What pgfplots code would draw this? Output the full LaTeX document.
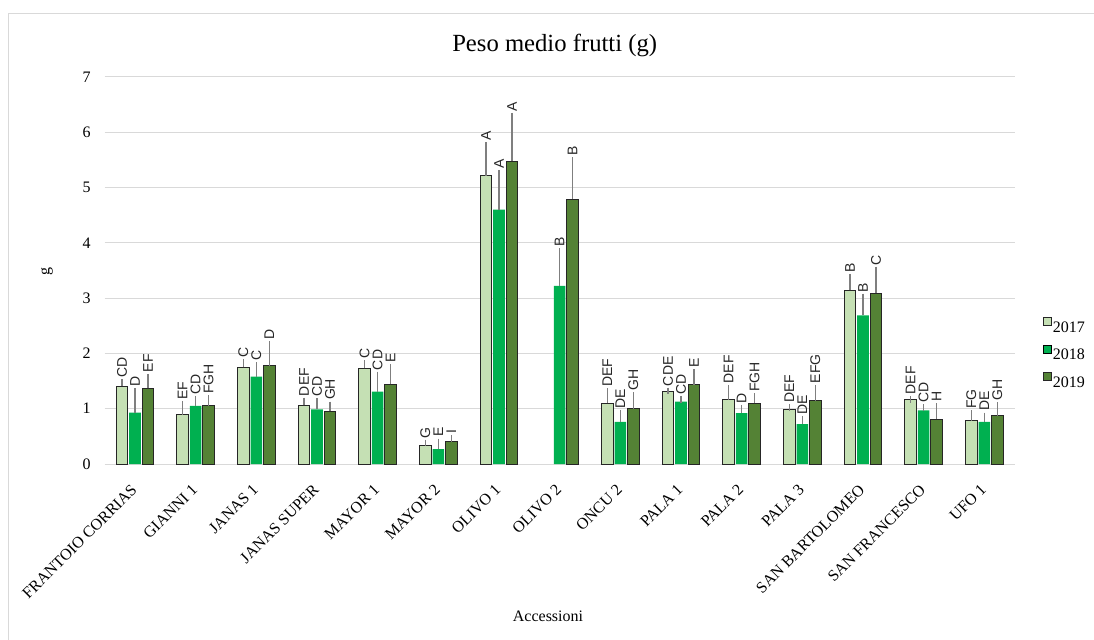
\documentclass[border=0pt]{standalone}
\usepackage{fontspec}
\setmainfont{Liberation Serif}
\newfontfamily\lettersf{Liberation Sans}
\usepackage{pgfplots}
\usepackage{pgfplotstable}
\pgfplotsset{compat=1.18}

\definecolor{c17}{HTML}{C5E0B4}
\definecolor{c18}{HTML}{00B050}
\definecolor{c19}{HTML}{548235}
\definecolor{edge}{HTML}{262626}
\definecolor{gridc}{HTML}{D9D9D9}
\definecolor{errc}{HTML}{7F7F7F}

% fruit weight (g): mean, error, letter group
\pgfplotstableread{
x  v     e     l
0  1.41  0.06  CD
1  0.89  0.19  EF
2  1.75  0.08  C
3  1.06  0.08  DEF
4  1.73  0.09  C
5  0.34  0.04  G
6  5.21  0.55  A
7  nan   0     -
8  1.10  0.21  DEF
9  1.31  0.01  CDE
10 1.16  0.21  DEF
11 0.99  0.03  DEF
12 3.14  0.24  B
13 1.16  0.01  DEF
14 0.78  0.13  FG
}\tA
\pgfplotstableread{
x  v     e     l
0  0.93  0.38  D
1  1.05  0.12  CD
2  1.58  0.20  C
3  0.99  0.14  CD
4  1.31  0.30  CD
5  0.27  0.13  E
6  4.60  0.66  A
7  3.22  0.62  B
8  0.76  0.16  DE
9  1.13  0.04  CD
10 0.92  0.09  D
11 0.72  0.09  DE
12 2.69  0.33  B
13 0.97  0.05  CD
14 0.76  0.11  DE
}\tB
\pgfplotstableread{
x  v     e     l
0  1.37  0.20  EF
1  1.05  0.13  FGH
2  1.78  0.38  D
3  0.95  0.12  GH
4  1.44  0.30  E
5  0.40  0.06  I
6  5.48  0.81  A
7  4.79  0.70  B
8  1.00  0.24  GH
9  1.43  0.22  E
10 1.10  0.12  FGH
11 1.14  0.23  EFG
12 3.09  0.42  C
13 0.81  0.23  H
14 0.87  0.19  GH
}\tC

\pgfplotsset{
  sqleg/.style={legend image code/.code={\draw[##1] (0pt,1pt) rectangle (6pt,7pt);}},
  letters/.style={forget plot, draw=none, fill=none,
    nodes near coords, point meta=explicit symbolic,
    nodes near coords style={rotate=90, anchor=west, inner sep=1.5pt, xshift=2pt,
      font=\lettersf\fontsize{10.5}{12}\selectfont, text=black!85}},
}

\begin{document}
\begin{tikzpicture}
\useasboundingbox (0,0) rectangle (820.5pt,479.25pt);
\draw[gridc, line width=0.75pt] (6pt,-20pt) rectangle (840pt,469pt);
\node[anchor=base, font=\fontsize{18.5}{22}\selectfont] at (416pt,440.5pt) {Peso medio frutti (g)};
\node[rotate=90, font=\fontsize{12}{14}\selectfont] at (35.25pt,275.5pt) {g};
\node[anchor=base, font=\fontsize{12}{14}\selectfont] at (411pt,13pt) {Accessioni};
\begin{axis}[
  at={(78.5pt,131.25pt)}, anchor=south west,
  scale only axis, width=682.5pt, height=290.25pt,
  ybar, bar width=8.65pt,
  xmin=-0.5, xmax=14.5, ymin=0, ymax=7,
  xtick={0,...,14},
  xticklabels={FRANTOIO CORRIAS, GIANNI 1, JANAS 1, JANAS SUPER, MAYOR 1, MAYOR 2, OLIVO 1, OLIVO 2, ONCU 2, PALA 1, PALA 2, PALA 3, SAN BARTOLOMEO, SAN FRANCESCO, UFO 1},
  ytick={0,...,7},
  ymajorgrids, grid style={gridc, line width=0.75pt},
  axis x line=bottom, axis y line=left, axis line style={draw=none},
  major tick length=0pt,
  tick label style={font=\fontsize{12}{14}\selectfont},
  /pgf/number format/assume math mode=true,
  xticklabel style={xshift=-2.25pt, yshift=-10pt, rotate=45, anchor=north east, inner sep=2pt, xshift=-2pt},
  yticklabel style={xshift=-7pt},
  clip=false,
  legend style={at={(1.031,0.2876)}, anchor=west, draw=none, fill=none,
    font=\fontsize{12}{14}\selectfont, inner sep=0pt, row sep=8.75pt,
    nodes={inner sep=0.6pt, text height=8.5pt, text depth=0pt}},
  legend cell align=left,
  error bars/error bar style={errc, line width=0.9pt, solid},
  error bars/error mark options={errc, mark size=2.5pt, line width=0.9pt},
]
\addplot[bar shift=-9.75pt, fill=c17, draw=edge, line width=0.75pt, sqleg,
  error bars/.cd, y dir=plus, y explicit] table[x=x, y=v, y error=e] {\tA};
\addplot[bar shift=0pt, fill=c18, draw=none, sqleg,
  error bars/.cd, y dir=plus, y explicit] table[x=x, y=v, y error=e] {\tB};
\addplot[bar shift=9.75pt, fill=c19, draw=edge, line width=0.75pt, sqleg,
  error bars/.cd, y dir=plus, y explicit] table[x=x, y=v, y error=e] {\tC};
\legend{2017,2018,2019}
% letter groups above the error bars
\addplot[letters, bar shift=-9.75pt] table[x=x, y expr=\thisrow{v}+\thisrow{e}, meta=l] {\tA};
\addplot[letters, bar shift=0pt] table[x=x, y expr=\thisrow{v}+\thisrow{e}, meta=l] {\tB};
\addplot[letters, bar shift=9.75pt] table[x=x, y expr=\thisrow{v}+\thisrow{e}, meta=l] {\tC};
\end{axis}
\end{tikzpicture}
\end{document}
